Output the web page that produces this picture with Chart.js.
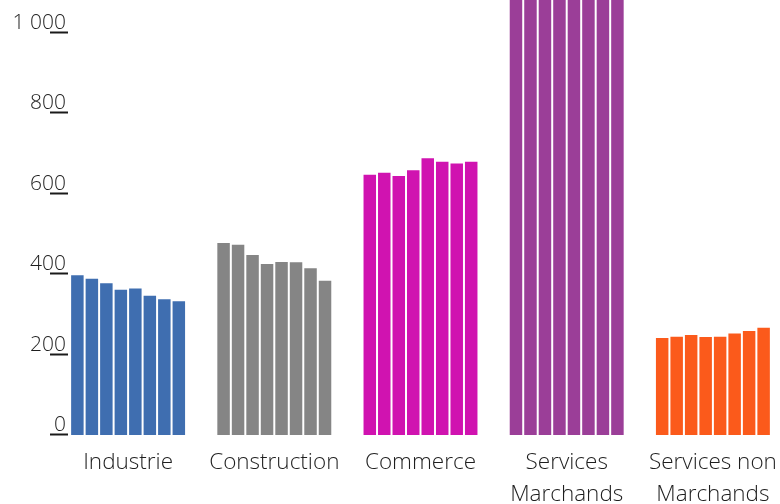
<!DOCTYPE html>
<html>
<head>
<meta charset="utf-8">
<script src="https://cdn.jsdelivr.net/npm/chart.js@4.4.0/dist/chart.umd.min.js"></script>
<style>
  html, body { margin: 0; padding: 0; background: #fff; overflow: hidden; }
  #wrap { width: 800px; height: 504px; }
</style>
</head>
<body>
<div id="wrap"><canvas id="chart" width="800" height="504"></canvas></div>
<script>
// --- donnees ---
const categories = ["Industrie", "Construction", "Commerce", ["Services", "Marchands"], ["Services non", "Marchands"]];
const industrie = [400, 391, 380, 364, 367, 349, 340, 335];
const construction = [480, 476, 450, 428, 433, 432, 417, 386];
const commerce = [650, 655, 647, 661, 691, 682, 678, 682];
const servicesMarchands = [1420, 1440, 1450, 1470, 1490, 1500, 1520, 1540];
const servicesNonMarchands = [244, 247, 251, 246, 247, 255, 261, 269];
const colors = ["#3F6EB0", "#858585", "#D013B0", "#9B3E98", "#FB5A1B"];
const tickValues = [0, 200, 400, 600, 800, 1000];
const tickLabels = ["0", "200", "400", "600", "800", "1 000"];

const groups = [industrie, construction, commerce, servicesMarchands, servicesNonMarchands];

// 8 series (une par annee), chacune avec une valeur par categorie
const datasets = industrie.map((_, i) => ({
  data: groups.map(g => g[i]),
  backgroundColor: colors,
  borderColor: "rgba(255,255,255,0.4)",
  borderWidth: 1,
  barPercentage: 1,
  categoryPercentage: 0.793
}));

// axe Y dessine a la main : libelle au-dessus d'un petit trait
const yTicksPlugin = {
  id: "yTicks",
  afterDraw(chart) {
    const ctx = chart.ctx;
    const y = chart.scales.y;
    ctx.save();
    ctx.font = "300 21px 'Open Sans', sans-serif";
    ctx.fillStyle = "#1e1e1e";
    ctx.textAlign = "right";
    ctx.textBaseline = "alphabetic";
    ctx.strokeStyle = "#1a1a1a";
    ctx.lineWidth = 2;
    tickValues.forEach((v, i) => {
      const py = Math.round(y.getPixelForValue(v)) - 0.5;
      ctx.beginPath();
      ctx.moveTo(50, py);
      ctx.lineTo(68, py);
      ctx.stroke();
      ctx.fillText(tickLabels[i], 66, py - 4);
    });
    ctx.restore();
  }
};

new Chart(document.getElementById("chart"), {
  type: "bar",
  data: { labels: categories, datasets: datasets },
  options: {
    responsive: false,
    animation: false,
    layout: { padding: { left: 55, right: 14, top: 0, bottom: 0 } },
    plugins: { legend: { display: false }, tooltip: { enabled: false } },
    scales: {
      x: {
        grid: { display: false, drawTicks: false },
        border: { display: false },
        ticks: {
          color: "#1e1e1e",
          padding: 12,
          font: { family: "'Open Sans', sans-serif", size: 22.5, weight: 300, lineHeight: 1.42 }
        },
        afterFit: s => { s.height = 69; }
      },
      y: {
        display: false,
        min: 0,
        max: 1082
      }
    }
  },
  plugins: [yTicksPlugin]
});
</script>
</body>
</html>
